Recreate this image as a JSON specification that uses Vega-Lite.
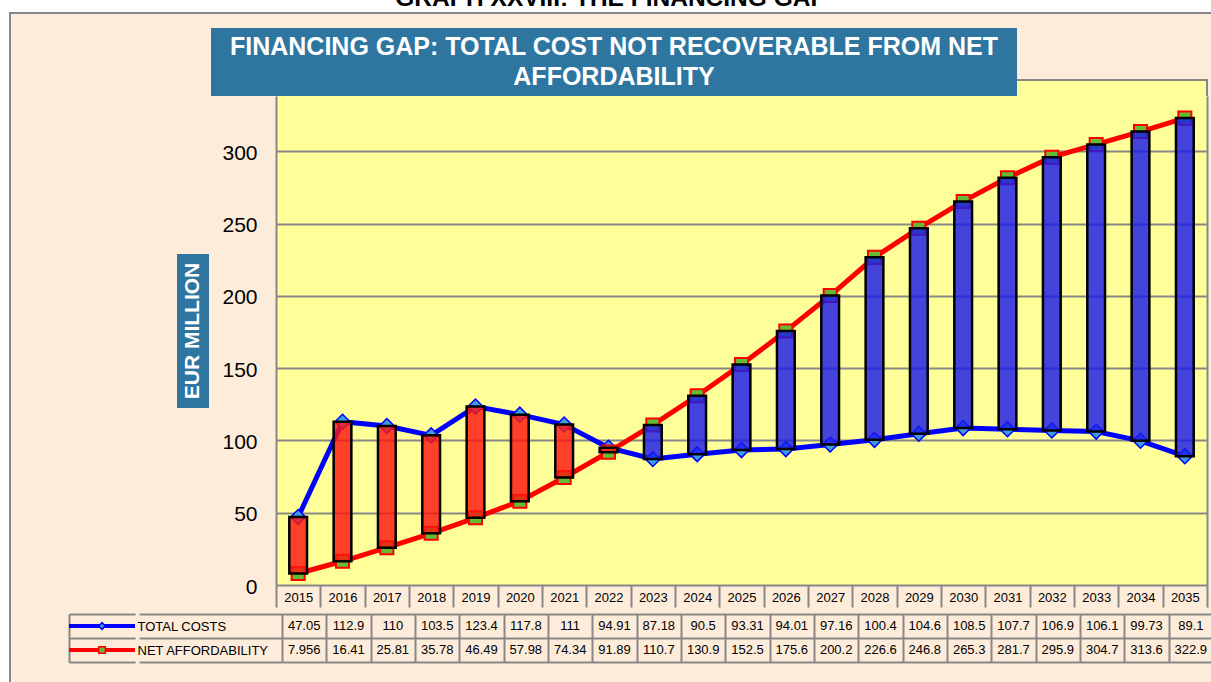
{
  "$schema": "https://vega.github.io/schema/vega-lite/v6.json",
  "background": "#FEECDA",
  "padding": 0,
  "config": {
    "view": {"stroke": null},
    "font": "Liberation Sans",
    "axis": {"minExtent": 0, "labelFont": "Liberation Sans", "labelColor": "#000000"}
  },
  "datasets": {
    "main": [
      {"year": "2015", "cost": 47.05, "afford": 7.956},
      {"year": "2016", "cost": 112.9, "afford": 16.41},
      {"year": "2017", "cost": 110, "afford": 25.81},
      {"year": "2018", "cost": 103.5, "afford": 35.78},
      {"year": "2019", "cost": 123.4, "afford": 46.49},
      {"year": "2020", "cost": 117.8, "afford": 57.98},
      {"year": "2021", "cost": 111, "afford": 74.34},
      {"year": "2022", "cost": 94.91, "afford": 91.89},
      {"year": "2023", "cost": 87.18, "afford": 110.7},
      {"year": "2024", "cost": 90.5, "afford": 130.9},
      {"year": "2025", "cost": 93.31, "afford": 152.5},
      {"year": "2026", "cost": 94.01, "afford": 175.6},
      {"year": "2027", "cost": 97.16, "afford": 200.2},
      {"year": "2028", "cost": 100.4, "afford": 226.6},
      {"year": "2029", "cost": 104.6, "afford": 246.8},
      {"year": "2030", "cost": 108.5, "afford": 265.3},
      {"year": "2031", "cost": 107.7, "afford": 281.7},
      {"year": "2032", "cost": 106.9, "afford": 295.9},
      {"year": "2033", "cost": 106.1, "afford": 304.7},
      {"year": "2034", "cost": 99.73, "afford": 313.6},
      {"year": "2035", "cost": 89.1, "afford": 322.9}
    ],
    "rows": [{"s": "TOTAL COSTS"}, {"s": "NET AFFORDABILITY"}]
  },
  "spacing": 0,
  "hconcat": [
    {"width": 9, "height": 682, "view": {"fill": "#FFFFFF"}, "data": {"values": []}, "mark": "point"},
    {
      "spacing": 0,
      "vconcat": [
        {"width": 2, "height": 12, "view": {"fill": "#FFFFFF"}, "data": {"values": []}, "mark": "point"},
        {"width": 2, "height": 670, "view": {"fill": "#878787"}, "data": {"values": []}, "mark": "point"}
      ]
    },
    {
      "spacing": 0,
      "vconcat": [
        {
          "width": 1200, "height": 12, "view": {"fill": "#FFFFFF"},
          "data": {"values": [{"t": "GRAPH XXVIII: THE FINANCING GAP"}]},
          "mark": {"type": "text", "clip": true, "fontSize": 24.5, "fontWeight": "bold", "baseline": "alphabetic", "align": "center", "color": "#000000"},
          "encoding": {"text": {"field": "t"}}
        },
        {"width": 1200, "height": 2, "view": {"fill": "#878787"}, "data": {"values": []}, "mark": "point"},
        {"width": 1, "height": 14, "data": {"values": []}, "mark": "point"},
        {
          "spacing": 0,
          "hconcat": [
            {"width": 200, "height": 1, "data": {"values": []}, "mark": "point"},
            {
              "width": 806, "height": 68, "view": {"fill": "#2E75A0"},
              "data": {"values": [
                {"t": "FINANCING GAP: TOTAL COST NOT RECOVERABLE  FROM NET", "l": "1"},
                {"t": "AFFORDABILITY", "l": "2"}
              ]},
              "mark": {"type": "text", "color": "#FFFFFF", "fontWeight": "bold", "fontSize": 25, "align": "center", "baseline": "middle"},
              "encoding": {
                "y": {"field": "l", "type": "ordinal", "scale": {"type": "point", "padding": 0.6}, "axis": null},
                "text": {"field": "t"}
              }
            },
            {
              "spacing": 0,
              "vconcat": [
                {"width": 1, "height": 51, "data": {"values": []}, "mark": "point"},
                {"width": 191, "height": 2, "view": {"fill": "#878787"}, "data": {"values": []}, "mark": "point"},
                {
                  "spacing": 0,
                  "hconcat": [
                    {"width": 189, "height": 15, "view": {"fill": "#FFFF99"}, "data": {"values": []}, "mark": "point"},
                    {"width": 2, "height": 15, "view": {"fill": "#878787"}, "data": {"values": []}, "mark": "point"}
                  ]
                }
              ]
            }
          ]
        },
        {
          "spacing": 0,
          "hconcat": [
            {"width": 166, "height": 1, "data": {"values": []}, "mark": "point"},
            {
              "spacing": 0,
              "vconcat": [
                {"width": 32, "height": 158, "data": {"values": []}, "mark": "point"},
                {
                  "width": 32, "height": 154, "view": {"fill": "#2E75A0"},
                  "data": {"values": [{"t": "EUR MILLION"}]},
                  "mark": {"type": "text", "angle": 270, "color": "#FFFFFF", "fontWeight": "bold", "fontSize": 21, "align": "center", "baseline": "middle"},
                  "encoding": {"text": {"field": "t"}}
                }
              ]
            },
            {"width": 12, "height": 1, "data": {"values": []}, "mark": "point"},
            {
              "width": 931, "height": 489,
              "view": {"fill": "#FFFF99"},
              "data": {"name": "main"},
              "resolve": {"axis": {"y": "independent"}},
              "encoding": {
                "x": {
                  "field": "year", "type": "ordinal",
                  "scale": {"paddingInner": 0, "paddingOuter": 0},
                  "axis": {"orient": "bottom", "title": null, "labelAngle": 0, "labelFontSize": 13, "labelPadding": -16, "ticks": true, "tickBand": "extent", "tickSize": 22, "tickColor": "#878787", "tickWidth": 2, "domain": false, "grid": false}
                }
              },
              "layer": [
                {
                  "mark": {"type": "line", "color": "#0000FF", "strokeWidth": 5},
                  "encoding": {"y": {"field": "cost", "type": "quantitative", "scale": {"domain": [0, 338.2], "nice": false},
                    "axis": {"orient": "left", "title": null, "values": [0, 50, 100, 150, 200, 250, 300], "labelFontSize": 21, "labelPadding": 19, "labelOffset": 2, "ticks": false, "domain": true, "domainColor": "#878787", "domainWidth": 2, "grid": true, "gridColor": "#878787", "gridWidth": 2}}}
                },
                {
                  "mark": {"type": "line", "color": "#FF0000", "strokeWidth": 5},
                  "encoding": {"y": {"field": "afford", "type": "quantitative",
                    "axis": {"orient": "right", "title": null, "labels": false, "ticks": false, "grid": false, "domain": true, "domainColor": "#878787", "domainWidth": 2}}}
                },
                {
                  "mark": {"type": "point", "shape": "diamond", "filled": true, "fill": "#3D9BE0", "stroke": "#0000FF", "strokeWidth": 1.5, "size": 225, "opacity": 1},
                  "encoding": {"y": {"field": "cost", "type": "quantitative", "axis": null}}
                },
                {
                  "mark": {"type": "point", "shape": "square", "filled": true, "fill": "#66BB33", "stroke": "#FF0000", "strokeWidth": 2, "size": 170, "opacity": 1},
                  "encoding": {"y": {"field": "afford", "type": "quantitative", "axis": null}}
                },
                {
                  "mark": {"type": "bar", "width": {"band": 0.4}, "stroke": "#000000", "strokeWidth": 2.5, "fillOpacity": 0.82},
                  "encoding": {
                    "y": {"field": "cost", "type": "quantitative", "axis": null},
                    "y2": {"field": "afford"},
                    "fill": {"condition": {"test": "datum.cost > datum.afford", "value": "#FF160F"}, "value": "#1B1BEC"}
                  }
                }
              ]
            }
          ]
        },
        {
          "spacing": 0,
          "hconcat": [
            {"width": 56, "height": 1, "data": {"values": []}, "mark": "point"},
            {
              "width": 66, "height": 48,
              "data": {"name": "rows"},
              "encoding": {
                "y": {"field": "s", "type": "nominal", "sort": null,
                  "scale": {"domain": ["TOTAL COSTS", "NET AFFORDABILITY"], "paddingInner": 0, "paddingOuter": 0},
                  "axis": {"orient": "left", "title": null, "labels": false, "ticks": false, "domain": true, "domainColor": "#878787", "domainWidth": 2, "grid": true, "tickBand": "extent", "gridColor": "#878787", "gridWidth": 2}}
              },
              "layer": [
                {
                  "mark": {"type": "rule", "strokeWidth": 4},
                  "encoding": {"color": {"condition": {"test": "datum.s == 'TOTAL COSTS'", "value": "#0000FF"}, "value": "#FF0000"}}
                },
                {
                  "mark": {"type": "point", "filled": true, "opacity": 1, "size": 45, "strokeWidth": 1.5},
                  "encoding": {
                    "shape": {"condition": {"test": "datum.s == 'TOTAL COSTS'", "value": "diamond"}, "value": "square"},
                    "fill": {"condition": {"test": "datum.s == 'TOTAL COSTS'", "value": "#3D9BE0"}, "value": "#66BB33"},
                    "stroke": {"condition": {"test": "datum.s == 'TOTAL COSTS'", "value": "#0000FF"}, "value": "#FF0000"}
                  }
                }
              ]
            },
            {
              "width": 143, "height": 48,
              "data": {"name": "rows"},
              "mark": {"type": "point", "opacity": 0},
              "encoding": {
                "y": {"field": "s", "type": "nominal", "sort": null,
                  "scale": {"domain": ["TOTAL COSTS", "NET AFFORDABILITY"], "paddingInner": 0, "paddingOuter": 0},
                  "axis": {"orient": "left", "title": null, "labels": true, "labelAlign": "left", "labelPadding": 2, "labelFontSize": 13, "ticks": false, "tickSize": 0, "domain": false, "grid": true, "tickBand": "extent", "gridColor": "#878787", "gridWidth": 2}}
              }
            },
            {
              "width": 931, "height": 48,
              "data": {"name": "main"},
              "transform": [{"fold": ["cost", "afford"], "as": ["series", "value"]}],
              "mark": {"type": "text", "fontSize": 13, "color": "#000000"},
              "encoding": {
                "x": {"field": "year", "type": "ordinal", "scale": {"paddingInner": 0, "paddingOuter": 0},
                  "axis": {"orient": "top", "title": null, "labels": false, "ticks": false, "domain": false, "grid": true, "tickBand": "extent", "gridColor": "#878787", "gridWidth": 2}},
                "y": {"field": "series", "type": "nominal", "sort": null, "scale": {"domain": ["cost", "afford"], "paddingInner": 0, "paddingOuter": 0},
                  "axis": {"title": null, "labels": false, "ticks": false, "domain": false, "grid": true, "tickBand": "extent", "gridColor": "#878787", "gridWidth": 2}},
                "text": {"field": "value", "type": "nominal"}
              }
            }
          ]
        },
        {"width": 1, "height": 26, "data": {"values": []}, "mark": "point"}
      ]
    }
  ]
}
